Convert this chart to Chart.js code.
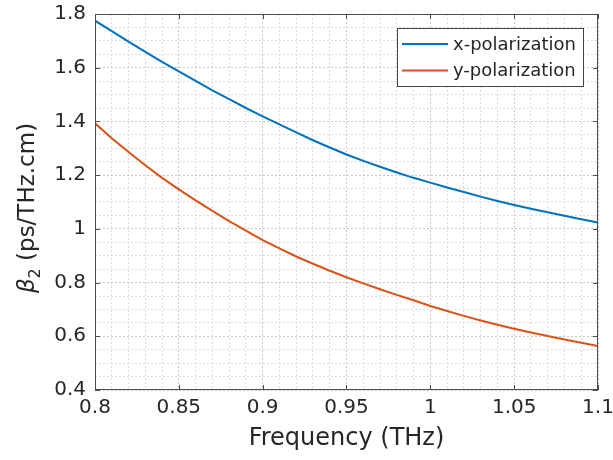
<!DOCTYPE html>
<html>
<head>
<meta charset="utf-8">
<script src="https://cdn.jsdelivr.net/npm/chart.js@4"></script>
<style>
  html, body { margin: 0; padding: 0; background: #fff; }
  #wrap { width: 613px; height: 460px; }
</style>
</head>
<body>
<div id="wrap"><canvas id="myChart"></canvas></div>
<script>
const freq = [0.80, 0.81, 0.82, 0.83, 0.84, 0.85, 0.86, 0.87, 0.88, 0.89, 0.90,
  0.91, 0.92, 0.93, 0.94, 0.95, 0.96, 0.97, 0.98, 0.99, 1.00,
  1.01, 1.02, 1.03, 1.04, 1.05, 1.06, 1.07, 1.08, 1.09, 1.10];
const xPol = [1.775, 1.736, 1.697, 1.659, 1.622, 1.586, 1.551, 1.516, 1.483, 1.450, 1.419,
  1.389, 1.359, 1.330, 1.303, 1.277, 1.253, 1.231, 1.210, 1.190, 1.172,
  1.154, 1.137, 1.120, 1.104, 1.089, 1.075, 1.062, 1.049, 1.036, 1.024];
const yPol = [1.393, 1.337, 1.286, 1.237, 1.190, 1.147, 1.106, 1.067, 1.029, 0.993, 0.958,
  0.927, 0.897, 0.870, 0.844, 0.820, 0.797, 0.775, 0.754, 0.734, 0.713,
  0.694, 0.676, 0.659, 0.643, 0.628, 0.614, 0.601, 0.588, 0.576, 0.564];
const xTicks = [0.8, 0.85, 0.9, 0.95, 1, 1.05, 1.1];
const yTicks = [0.4, 0.6, 0.8, 1, 1.2, 1.4, 1.6, 1.8];

const FONT = "'DejaVu Sans', sans-serif";
const AXIS = "#4d4d4d";

const isMajor = (v, list) => list.some(t => Math.abs(t - v) < 1e-6);

// frame, inner tick marks, legend and the y label (MATLAB style)
const decor = {
  id: "decor",
  afterDraw(chart) {
    const ctx = chart.ctx;
    const a = chart.chartArea;
    const xs = chart.scales.x, ys = chart.scales.y;
    ctx.save();
    ctx.strokeStyle = AXIS;
    ctx.lineWidth = 1;
    ctx.strokeRect(a.left + 0.5, a.top + 0.5, a.right - a.left - 1, a.bottom - a.top - 1);
    ctx.beginPath();
    xTicks.forEach(v => {
      const px = Math.round(xs.getPixelForValue(v)) + 0.5;
      ctx.moveTo(px, a.bottom); ctx.lineTo(px, a.bottom - 5);
      ctx.moveTo(px, a.top); ctx.lineTo(px, a.top + 5);
    });
    yTicks.forEach(v => {
      const py = Math.round(ys.getPixelForValue(v)) + 0.5;
      ctx.moveTo(a.left, py); ctx.lineTo(a.left + 5, py);
      ctx.moveTo(a.right, py); ctx.lineTo(a.right - 5, py);
    });
    ctx.stroke();

    // legend
    ctx.fillStyle = "#fff";
    ctx.fillRect(397, 28, 186, 58);
    ctx.strokeStyle = "#444";
    ctx.strokeRect(397.5, 28.5, 186, 58);
    ctx.font = "18px " + FONT;
    ctx.textBaseline = "middle";
    ctx.textAlign = "left";
    chart.data.datasets.forEach((ds, i) => {
      const yy = 44 + i * 26.5;
      ctx.strokeStyle = ds.borderColor;
      ctx.lineWidth = 2;
      ctx.beginPath();
      ctx.moveTo(402, yy); ctx.lineTo(448, yy);
      ctx.stroke();
      ctx.fillStyle = "#262626";
      ctx.fillText(ds.label, 453, yy + 1);
    });

    // y axis label: italic beta with subscript 2
    ctx.translate(34, 208);
    ctx.rotate(-Math.PI / 2);
    ctx.fillStyle = "#262626";
    ctx.textBaseline = "alphabetic";
    const f1 = "italic 23px " + FONT, f2 = "16px " + FONT, f3 = "23px " + FONT;
    const rest = " (ps/THz.cm)";
    ctx.font = f1; const w1 = ctx.measureText("\u03B2").width;
    ctx.font = f2; const w2 = ctx.measureText("2").width;
    ctx.font = f3; const w3 = ctx.measureText(rest).width;
    let x0 = -(w1 + w2 + w3) / 2;
    ctx.font = f1; ctx.fillText("\u03B2", x0, 0); x0 += w1;
    ctx.font = f2; ctx.fillText("2", x0, 6); x0 += w2;
    ctx.font = f3; ctx.fillText(rest, x0, 0);
    ctx.restore();
  }
};

new Chart(document.getElementById("myChart"), {
  type: "line",
  data: {
    datasets: [
      {
        label: "x-polarization",
        data: freq.map((f, i) => ({ x: f, y: xPol[i] })),
        borderColor: "#0072BD",
        borderWidth: 2,
        pointRadius: 0,
        tension: 0,
      },
      {
        label: "y-polarization",
        data: freq.map((f, i) => ({ x: f, y: yPol[i] })),
        borderColor: "#D95319",
        borderWidth: 2,
        pointRadius: 0,
        tension: 0,
      },
    ],
  },
  plugins: [decor],
  options: {
    responsive: true,
    maintainAspectRatio: false,
    animation: false,
    layout: { padding: { top: 14, right: 15, left: 0, bottom: 0 } },
    plugins: {
      legend: { display: false },
      tooltip: { enabled: false },
    },
    scales: {
      x: {
        type: "linear",
        min: 0.8,
        max: 1.1,
        afterFit: s => { s.height = 70; s.paddingLeft = 0; s.paddingRight = 0; },
        ticks: {
          stepSize: 0.01,
          autoSkip: false,
          maxRotation: 0,
          padding: 6,
          color: "#262626",
          font: { family: FONT, size: 20 },
          callback: v => (isMajor(v, xTicks) ? String(parseFloat(v.toFixed(2))) : ""),
        },
        grid: {
          drawTicks: false,
          color: ctx => (isMajor(ctx.tick.value, xTicks) ? "#c8c8c8" : "#dcdcdc"),
        },
        border: { display: false, dash: [2, 2] },
        title: {
          display: true,
          text: "Frequency (THz)",
          color: "#262626",
          font: { family: FONT, size: 24 },
          padding: { top: 0, bottom: 7 },
        },
      },
      y: {
        min: 0.4,
        max: 1.8,
        afterFit: s => { s.width = 95; s.paddingTop = 0; s.paddingBottom = 0; },
        ticks: {
          stepSize: 0.05,
          autoSkip: false,
          padding: 9,
          color: "#262626",
          font: { family: FONT, size: 20 },
          callback: v => (isMajor(v, yTicks) ? String(parseFloat(v.toFixed(2))) : ""),
        },
        grid: {
          drawTicks: false,
          color: ctx => (isMajor(ctx.tick.value, yTicks) ? "#c8c8c8" : "#dcdcdc"),
        },
        border: { display: false, dash: [2, 2] },
      },
    },
  },
});
</script>
</body>
</html>
